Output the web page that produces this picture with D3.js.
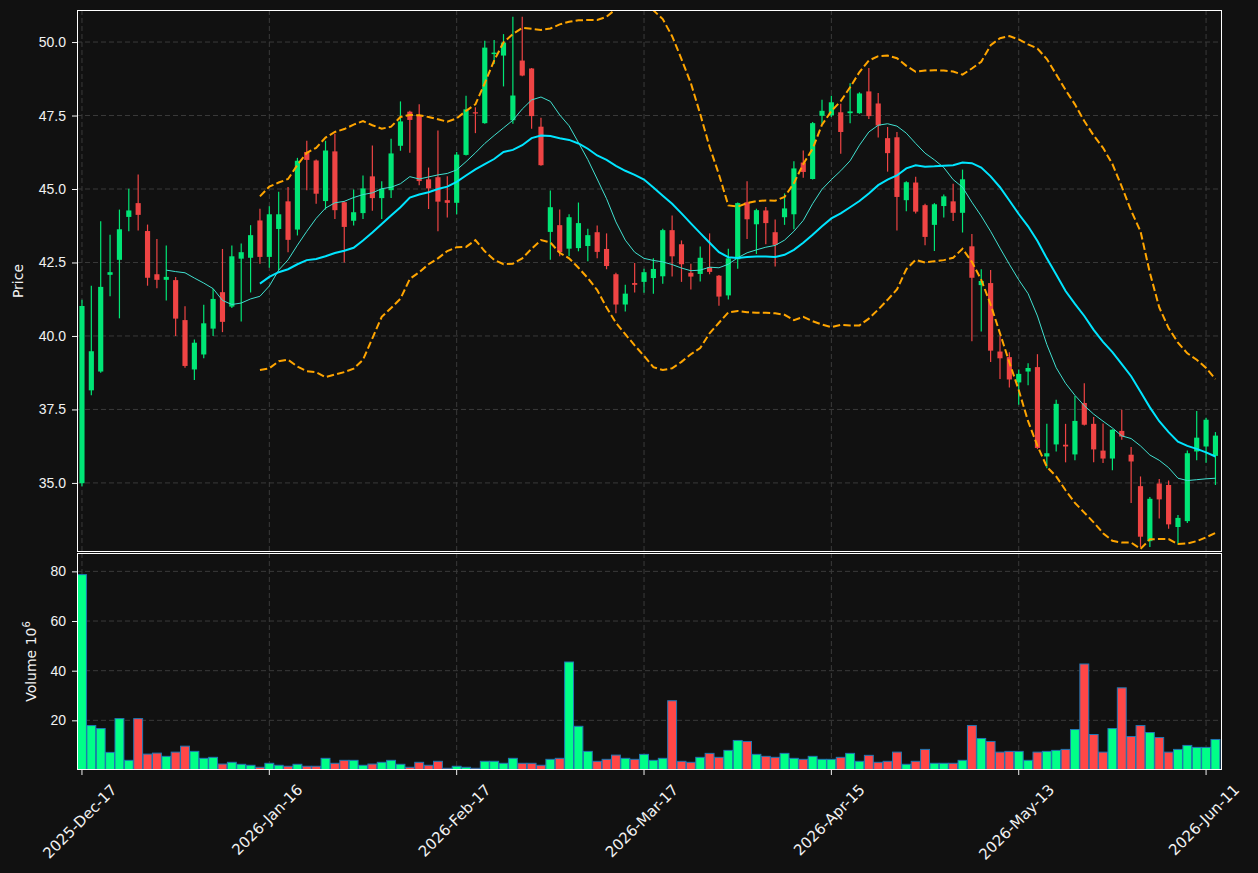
<!DOCTYPE html>
<html lang="en">
<head>
<meta charset="UTF-8">
<title>Price / Volume Candlestick Chart</title>
<script src="https://cdnjs.cloudflare.com/ajax/libs/d3/7.8.5/d3.min.js"></script>
<style>
    body {
        margin: 0;
        background: #111111;
    }
    svg {
        display: block;
        font-family: 'DejaVu Sans', sans-serif;
    }
    .tick text {
        fill: #f2f2f2;
        font-size: 14px;
    }
    .tick line {
        stroke: #f2f2f2;
    }
    .domain {
        display: none;
    }
    .grid line {
        stroke: #3a3a3a;
        stroke-width: 1;
        stroke-dasharray: 5,3;
    }
    .axis-label {
        fill: #f2f2f2;
        font-size: 14px;
    }
    .x-label {
        fill: #f2f2f2;
        font-size: 15px;
    }
</style>
</head>
<body>
<svg id="chart" width="1258" height="873"></svg>

<script>
// x tick labels, one every 20 sessions
const tickLabels = ["2025-Dec-17", "2026-Jan-16", "2026-Feb-17", "2026-Mar-17", "2026-Apr-15", "2026-May-13", "2026-Jun-11"];

const opens = [34.99, 38.15, 38.79, 42.08, 42.59, 44.05, 44.52, 43.57, 42.10, 41.91,
    41.90, 40.54, 38.86, 39.37, 40.25, 41.49, 41.00, 42.63, 42.66, 43.93,
    42.69, 43.64, 44.58, 43.62, 46.26, 45.97, 44.59, 46.28, 44.55, 43.92,
    44.18, 45.43, 44.69, 44.96, 46.47, 47.63, 47.49, 45.33, 45.40, 44.62,
    44.53, 46.16, 47.61, 47.24, 49.59, 49.54, 47.34, 49.37, 49.10, 47.12,
    43.54, 43.77, 42.97, 42.99, 43.06, 43.53, 42.96, 42.10, 41.07, 41.80,
    41.84, 41.97, 42.03, 43.60, 43.12, 42.15, 42.11, 42.34, 42.05, 41.38,
    42.61, 44.55, 43.80, 44.27, 43.53, 44.04, 44.14, 45.90, 45.34, 47.49,
    47.51, 47.61, 47.58, 47.58, 48.32, 47.91, 46.73, 46.76, 44.62, 45.22,
    44.45, 43.78, 44.42, 44.58, 44.19, 43.05, 41.73, 41.80, 39.47, 39.28,
    38.42, 38.79, 38.94, 35.90, 36.31, 36.30, 35.97, 37.72, 37.01, 36.10,
    35.83, 36.77, 35.96, 34.89, 33.02, 34.98, 34.93, 33.50, 33.70, 36.07,
    36.24, 35.92];

const highs = [41.23, 41.71, 43.90, 43.44, 44.30, 45.01, 45.49, 43.79, 43.30, 43.08,
    42.01, 41.01, 39.88, 41.06, 41.61, 42.96, 43.08, 43.15, 43.77, 44.33,
    44.41, 44.91, 45.07, 46.06, 46.64, 46.00, 46.64, 46.88, 44.58, 44.98,
    45.46, 46.48, 45.26, 46.71, 47.98, 47.66, 47.88, 45.73, 46.99, 45.43,
    46.26, 48.17, 47.78, 50.04, 50.07, 50.27, 50.86, 50.86, 49.12, 47.42,
    44.95, 44.30, 44.14, 44.54, 43.65, 43.76, 43.49, 42.15, 41.74, 42.48,
    42.29, 42.64, 43.65, 44.10, 43.25, 42.46, 43.04, 43.49, 42.07, 42.97,
    44.54, 45.26, 44.33, 44.39, 43.96, 44.85, 45.94, 46.31, 47.28, 48.04,
    48.17, 47.90, 48.60, 48.29, 49.12, 48.27, 47.11, 46.94, 45.26, 45.42,
    44.50, 44.52, 44.81, 45.18, 45.66, 43.47, 42.27, 42.24, 39.99, 39.45,
    38.86, 39.07, 39.38, 37.01, 37.83, 37.01, 37.96, 38.39, 37.24, 37.02,
    36.83, 37.49, 36.22, 35.22, 34.52, 35.13, 35.08, 33.91, 36.10, 37.45,
    37.22, 36.73];

const lows = [34.89, 37.98, 38.75, 41.35, 40.60, 43.56, 43.59, 41.71, 41.62, 41.21,
    40.00, 38.92, 38.50, 39.24, 40.00, 40.13, 40.95, 40.49, 41.48, 42.46,
    42.32, 42.24, 42.85, 43.42, 44.96, 44.50, 44.30, 43.98, 42.50, 43.76,
    43.98, 44.26, 43.98, 44.69, 46.30, 46.23, 45.13, 44.32, 43.56, 44.03,
    44.14, 46.14, 46.90, 47.22, 49.25, 48.49, 47.22, 48.84, 47.05, 45.79,
    42.59, 42.71, 42.71, 42.88, 42.54, 42.64, 42.27, 40.77, 40.83, 41.48,
    41.47, 41.44, 41.78, 42.02, 41.84, 41.58, 41.85, 42.10, 41.03, 41.24,
    42.29, 43.30, 42.79, 43.12, 42.36, 43.78, 43.63, 45.38, 45.32, 47.22,
    47.45, 46.20, 47.24, 47.56, 47.38, 46.75, 45.59, 43.59, 44.24, 44.17,
    43.09, 42.89, 44.03, 43.91, 43.52, 39.82, 40.15, 39.11, 38.54, 38.25,
    37.66, 38.32, 36.15, 35.50, 36.07, 35.70, 35.77, 36.95, 35.70, 35.68,
    35.43, 36.47, 34.32, 32.82, 32.82, 33.79, 33.44, 32.91, 33.64, 35.77,
    35.69, 34.93];

const closes = [41.02, 39.48, 41.67, 42.17, 43.63, 44.27, 44.12, 41.98, 41.91, 42.01,
    40.59, 38.98, 39.77, 40.43, 41.26, 40.48, 42.71, 42.85, 43.43, 42.69,
    44.14, 44.14, 43.27, 45.96, 45.99, 44.84, 46.31, 44.28, 43.71, 44.21,
    45.02, 44.69, 45.01, 46.21, 47.30, 47.35, 45.27, 45.02, 44.57, 44.53,
    46.17, 47.71, 47.57, 49.81, 49.64, 49.98, 48.18, 48.86, 47.48, 45.81,
    44.38, 42.85, 44.04, 43.84, 43.43, 42.86, 42.38, 41.07, 41.44, 41.74,
    42.17, 42.28, 43.60, 42.71, 42.44, 42.02, 42.66, 42.18, 41.34, 42.64,
    44.52, 43.97, 44.28, 43.84, 43.10, 44.34, 45.70, 45.58, 47.24, 47.66,
    47.95, 46.94, 47.64, 48.25, 47.48, 47.16, 46.22, 44.73, 45.23, 44.23,
    43.37, 44.48, 44.75, 44.19, 45.33, 41.98, 41.87, 39.50, 39.24, 38.52,
    38.71, 38.91, 36.19, 36.01, 37.69, 36.24, 37.11, 36.98, 36.14, 35.83,
    36.81, 36.58, 35.73, 33.17, 34.46, 34.44, 33.59, 33.81, 36.01, 36.54,
    37.15, 36.61];

// volume in millions
const volumes = [78.7, 17.9, 16.7, 7.1, 20.7, 3.9, 20.7, 6.4, 6.8, 5.5,
    7.2, 9.6, 7.5, 4.7, 5.1, 2.4, 3.1, 2.3, 1.9, 1.1,
    2.7, 1.9, 1.5, 2.3, 1.5, 1.5, 4.7, 2.7, 3.9, 3.9,
    1.9, 2.4, 3.1, 3.9, 2.3, 1.1, 3.1, 1.9, 3.5, 0.7,
    1.5, 1.1, 0.7, 3.5, 3.5, 2.7, 4.7, 2.7, 2.7, 1.9,
    4.3, 4.7, 43.5, 17.6, 7.5, 3.5, 4.3, 6.0, 4.7, 4.3,
    6.3, 3.9, 4.7, 27.9, 3.5, 3.1, 5.1, 6.7, 5.1, 7.9,
    11.9, 11.5, 6.3, 5.5, 5.1, 6.7, 4.7, 4.3, 5.5, 4.3,
    4.3, 5.1, 6.7, 3.5, 5.9, 3.1, 3.5, 7.2, 2.3, 3.5,
    8.3, 2.7, 2.7, 2.7, 3.9, 17.9, 12.7, 11.5, 7.2, 7.5,
    7.5, 3.9, 7.2, 7.5, 7.9, 8.3, 16.3, 42.7, 14.3, 7.2,
    16.7, 33.1, 13.5, 17.9, 15.1, 13.1, 7.2, 8.3, 9.9, 9.1,
    9.1, 12.3];

// overlay lines
const ma10 = [null, null, null, null, null, null, null, null, null, 42.24,
    42.19, 42.15, 41.97, 41.80, 41.61, 41.21, 41.07, 41.12, 41.26, 41.35,
    41.70, 42.24, 42.59, 43.09, 43.56, 44.00, 44.35, 44.53, 44.58, 44.71,
    44.81, 44.87, 45.01, 45.06, 45.18, 45.42, 45.34, 45.41, 45.48, 45.53,
    45.65, 45.93, 46.23, 46.55, 46.82, 47.08, 47.34, 47.72, 48.03, 48.13,
    47.98, 47.52, 47.15, 46.58, 46.00, 45.34, 44.67, 43.88, 43.26, 42.85,
    42.64, 42.57, 42.52, 42.43, 42.31, 42.22, 42.24, 42.34, 42.32, 42.44,
    42.66, 42.83, 42.93, 43.02, 43.08, 43.26, 43.56, 43.93, 44.50, 44.99,
    45.32, 45.62, 45.96, 46.49, 46.94, 47.17, 47.22, 47.14, 46.90, 46.55,
    46.22, 45.99, 45.73, 45.32, 45.06, 44.55, 44.08, 43.56, 42.99, 42.44,
    41.91, 41.44, 40.68, 39.71, 38.92, 38.39, 37.98, 37.63, 37.34, 37.10,
    36.87, 36.60, 36.51, 36.26, 35.95, 35.77, 35.52, 35.16, 35.08, 35.11,
    35.14, 35.16];

const ma20 = [null, null, null, null, null, null, null, null, null, null,
    null, null, null, null, null, null, null, null, null, 41.78,
    42.01, 42.17, 42.27, 42.44, 42.58, 42.62, 42.71, 42.82, 42.90, 43.00,
    43.25, 43.52, 43.81, 44.10, 44.38, 44.71, 44.81, 44.89, 45.00, 45.08,
    45.24, 45.46, 45.67, 45.85, 46.02, 46.26, 46.33, 46.49, 46.73, 46.82,
    46.80, 46.73, 46.67, 46.55, 46.37, 46.14, 45.99, 45.79, 45.62, 45.48,
    45.32, 45.05, 44.77, 44.50, 44.17, 43.83, 43.50, 43.17, 42.85, 42.68,
    42.65, 42.69, 42.70, 42.70, 42.69, 42.76, 42.93, 43.17, 43.44, 43.73,
    44.00, 44.17, 44.38, 44.59, 44.85, 45.13, 45.32, 45.46, 45.70, 45.81,
    45.76, 45.77, 45.79, 45.81, 45.90, 45.88, 45.73, 45.43, 45.06, 44.61,
    44.15, 43.73, 43.23, 42.64, 42.09, 41.53, 41.09, 40.68, 40.21, 39.80,
    39.45, 39.04, 38.63, 38.10, 37.57, 37.10, 36.73, 36.40, 36.26, 36.16,
    36.04, 35.90];

const bbUpper = [null, null, null, null, null, null, null, null, null, null,
    null, null, null, null, null, null, null, null, null, 44.75,
    45.08, 45.22, 45.34, 45.82, 46.23, 46.40, 46.75, 46.94, 47.04, 47.19,
    47.31, 47.17, 47.05, 47.12, 47.45, 47.52, 47.51, 47.45, 47.37, 47.29,
    47.40, 47.66, 47.88, 48.60, 49.37, 49.99, 50.27, 50.48, 50.45, 50.41,
    50.46, 50.60, 50.69, 50.74, 50.75, 50.75, 50.86, 51.12, 51.35, 51.42,
    51.32, 51.08, 50.78, 50.20, 49.42, 48.60, 47.55, 46.43, 45.49, 44.44,
    44.40, 44.52, 44.59, 44.61, 44.60, 44.73, 45.20, 45.85, 46.37, 47.19,
    47.65, 47.99, 48.46, 48.98, 49.37, 49.52, 49.54, 49.45, 49.19, 48.99,
    49.03, 49.04, 49.03, 49.00, 48.89, 49.10, 49.33, 49.89, 50.13, 50.20,
    50.09, 49.92, 49.78, 49.42, 48.90, 48.37, 47.88, 47.31, 46.82, 46.40,
    45.85, 45.08, 44.26, 43.56, 42.15, 40.97, 40.27, 39.77, 39.41, 39.19,
    38.91, 38.53];

const bbLower = [null, null, null, null, null, null, null, null, null, null,
    null, null, null, null, null, null, null, null, null, 38.84,
    38.90, 39.14, 39.19, 38.96, 38.80, 38.77, 38.60, 38.69, 38.77, 38.89,
    39.19, 39.92, 40.65, 40.95, 41.27, 41.94, 42.17, 42.44, 42.64, 42.89,
    43.02, 43.03, 43.26, 42.88, 42.59, 42.44, 42.46, 42.64, 42.97, 43.26,
    43.18, 42.83, 42.64, 42.32, 41.97, 41.56, 40.97, 40.45, 40.06, 39.68,
    39.32, 38.94, 38.84, 38.90, 39.12, 39.38, 39.59, 40.09, 40.45, 40.80,
    40.85, 40.81, 40.79, 40.79, 40.77, 40.72, 40.54, 40.65, 40.50, 40.39,
    40.30, 40.38, 40.36, 40.36, 40.59, 40.90, 41.23, 41.58, 42.27, 42.59,
    42.50, 42.54, 42.58, 42.66, 42.97, 42.52, 41.91, 41.07, 40.09, 39.10,
    38.16, 37.10, 36.26, 35.55, 35.22, 34.75, 34.32, 33.99, 33.66, 33.29,
    33.03, 32.97, 32.97, 32.76, 33.08, 33.09, 33.09, 32.92, 32.94, 33.02,
    33.15, 33.30];

const priceTicks = [35, 37.5, 40, 42.5, 45, 47.5, 50];
const volumeTicks = [20, 40, 60, 80];

// ---------------------------------------------------------------
const svg = d3.select("#chart");
const left = 77, right = 1222;
const priceTop = 10, priceBottom = 552;
const volTop = 553, volBottom = 770;
const n = closes.length;

const upColor = "#00e676", downColor = "#ef4444";
const volUp = "#00ff88", volDown = "#ff4747", volEdge = "#1f77b4";

svg.append("rect").attr("width", 1258).attr("height", 873).attr("fill", "#111111");

const x = d3.scaleLinear().domain([-0.53, n - 0.3]).range([left, right]);
const yPrice = d3.scaleLinear().domain([32.65, 51.09]).range([priceBottom, priceTop]);
const yVol = d3.scaleLinear().domain([0, 87.4]).range([volBottom, volTop]);
const step = x(1) - x(0);
const xTickIdx = tickLabels.map((d, i) => i * 20);

const defs = svg.append("defs");
defs.append("clipPath").attr("id", "clip-price")
    .append("rect").attr("x", left).attr("y", priceTop)
    .attr("width", right - left).attr("height", priceBottom - priceTop);
defs.append("clipPath").attr("id", "clip-vol")
    .append("rect").attr("x", left).attr("y", volTop)
    .attr("width", right - left).attr("height", volBottom - volTop);

// grids
const grid = svg.append("g").attr("class", "grid");
priceTicks.forEach(v => grid.append("line")
    .attr("x1", left).attr("x2", right).attr("y1", yPrice(v)).attr("y2", yPrice(v)));
volumeTicks.forEach(v => grid.append("line")
    .attr("x1", left).attr("x2", right).attr("y1", yVol(v)).attr("y2", yVol(v)));
xTickIdx.forEach(i => {
    grid.append("line").attr("x1", x(i)).attr("x2", x(i)).attr("y1", priceTop).attr("y2", priceBottom);
    grid.append("line").attr("x1", x(i)).attr("x2", x(i)).attr("y1", volTop).attr("y2", volBottom);
});

// candles
const candles = svg.append("g").attr("clip-path", "url(#clip-price)");
const bodyW = step * 0.55;
d3.range(n).forEach(i => {
    const up = closes[i] >= opens[i];
    const col = up ? upColor : downColor;
    candles.append("line")
        .attr("x1", x(i)).attr("x2", x(i))
        .attr("y1", yPrice(highs[i])).attr("y2", yPrice(lows[i]))
        .attr("stroke", col).attr("stroke-width", 1.2);
    const top = yPrice(Math.max(opens[i], closes[i]));
    const bot = yPrice(Math.min(opens[i], closes[i]));
    candles.append("rect")
        .attr("x", x(i) - bodyW / 2).attr("width", bodyW)
        .attr("y", top).attr("height", Math.max(bot - top, 1.2))
        .attr("fill", col);
});

// overlay lines
const line = d3.line()
    .defined(d => d != null)
    .x((d, i) => x(i))
    .y(d => yPrice(d));
const overlays = svg.append("g").attr("clip-path", "url(#clip-price)").attr("fill", "none");
overlays.append("path").attr("d", line(bbUpper))
    .attr("stroke", "#ffa500").attr("stroke-width", 2).attr("stroke-dasharray", "7.4,3.2");
overlays.append("path").attr("d", line(bbLower))
    .attr("stroke", "#ffa500").attr("stroke-width", 2).attr("stroke-dasharray", "7.4,3.2");
overlays.append("path").attr("d", line(ma10))
    .attr("stroke", "#40e0d0").attr("stroke-width", 1);
overlays.append("path").attr("d", line(ma20))
    .attr("stroke", "#00e5ff").attr("stroke-width", 2);

// volume bars
const vols = svg.append("g").attr("clip-path", "url(#clip-vol)");
const volW = step * 0.95;
vols.selectAll("rect")
    .data(volumes)
    .enter()
    .append("rect")
    .attr("x", (d, i) => x(i) - volW / 2)
    .attr("width", volW)
    .attr("y", d => yVol(d))
    .attr("height", d => yVol(0) - yVol(d))
    .attr("fill", (d, i) => closes[i] >= opens[i] ? volUp : volDown)
    .attr("stroke", volEdge)
    .attr("stroke-width", 1);

// frames
[[priceTop, priceBottom], [volTop, volBottom]].forEach(([t, b]) => {
    svg.append("rect")
        .attr("x", left + 0.5).attr("y", t + 0.5)
        .attr("width", right - left - 1).attr("height", b - t - 1)
        .attr("fill", "none").attr("stroke", "#ffffff").attr("stroke-width", 1);
});

// axes
svg.append("g")
    .attr("transform", `translate(${left},0)`)
    .call(d3.axisLeft(yPrice).tickValues(priceTicks).tickFormat(d3.format(".1f"))
        .tickSize(5).tickPadding(6));
svg.append("g")
    .attr("transform", `translate(${left},0)`)
    .call(d3.axisLeft(yVol).tickValues(volumeTicks).tickFormat(d3.format("d"))
        .tickSize(5).tickPadding(6));

const xAxis = svg.append("g").attr("transform", `translate(0,${volBottom})`);
xTickIdx.forEach((idx, k) => {
    xAxis.append("line")
        .attr("x1", x(idx)).attr("x2", x(idx)).attr("y1", 0).attr("y2", 5)
        .attr("stroke", "#f2f2f2");
    const t = xAxis.append("text")
        .attr("class", "x-label")
        .attr("text-anchor", "middle")
        .attr("dominant-baseline", "central")
        .text(tickLabels[k]);
    const len = t.node().getComputedTextLength();
    const half = (len + 15) / (2 * Math.SQRT2);
    t.attr("transform", `translate(${x(idx) - 2},${12 + half}) rotate(-45)`);
});

// axis titles
svg.append("text")
    .attr("class", "axis-label")
    .attr("text-anchor", "middle")
    .attr("transform", `translate(23,${(priceTop + priceBottom) / 2}) rotate(-90)`)
    .text("Price");

const volLabel = svg.append("text")
    .attr("class", "axis-label")
    .attr("text-anchor", "middle")
    .attr("transform", `translate(36,${(volTop + volBottom) / 2}) rotate(-90)`);
volLabel.append("tspan").text("Volume  10");
volLabel.append("tspan").attr("dy", -6).attr("font-size", "10px").text("6");
</script>
</body>
</html>
